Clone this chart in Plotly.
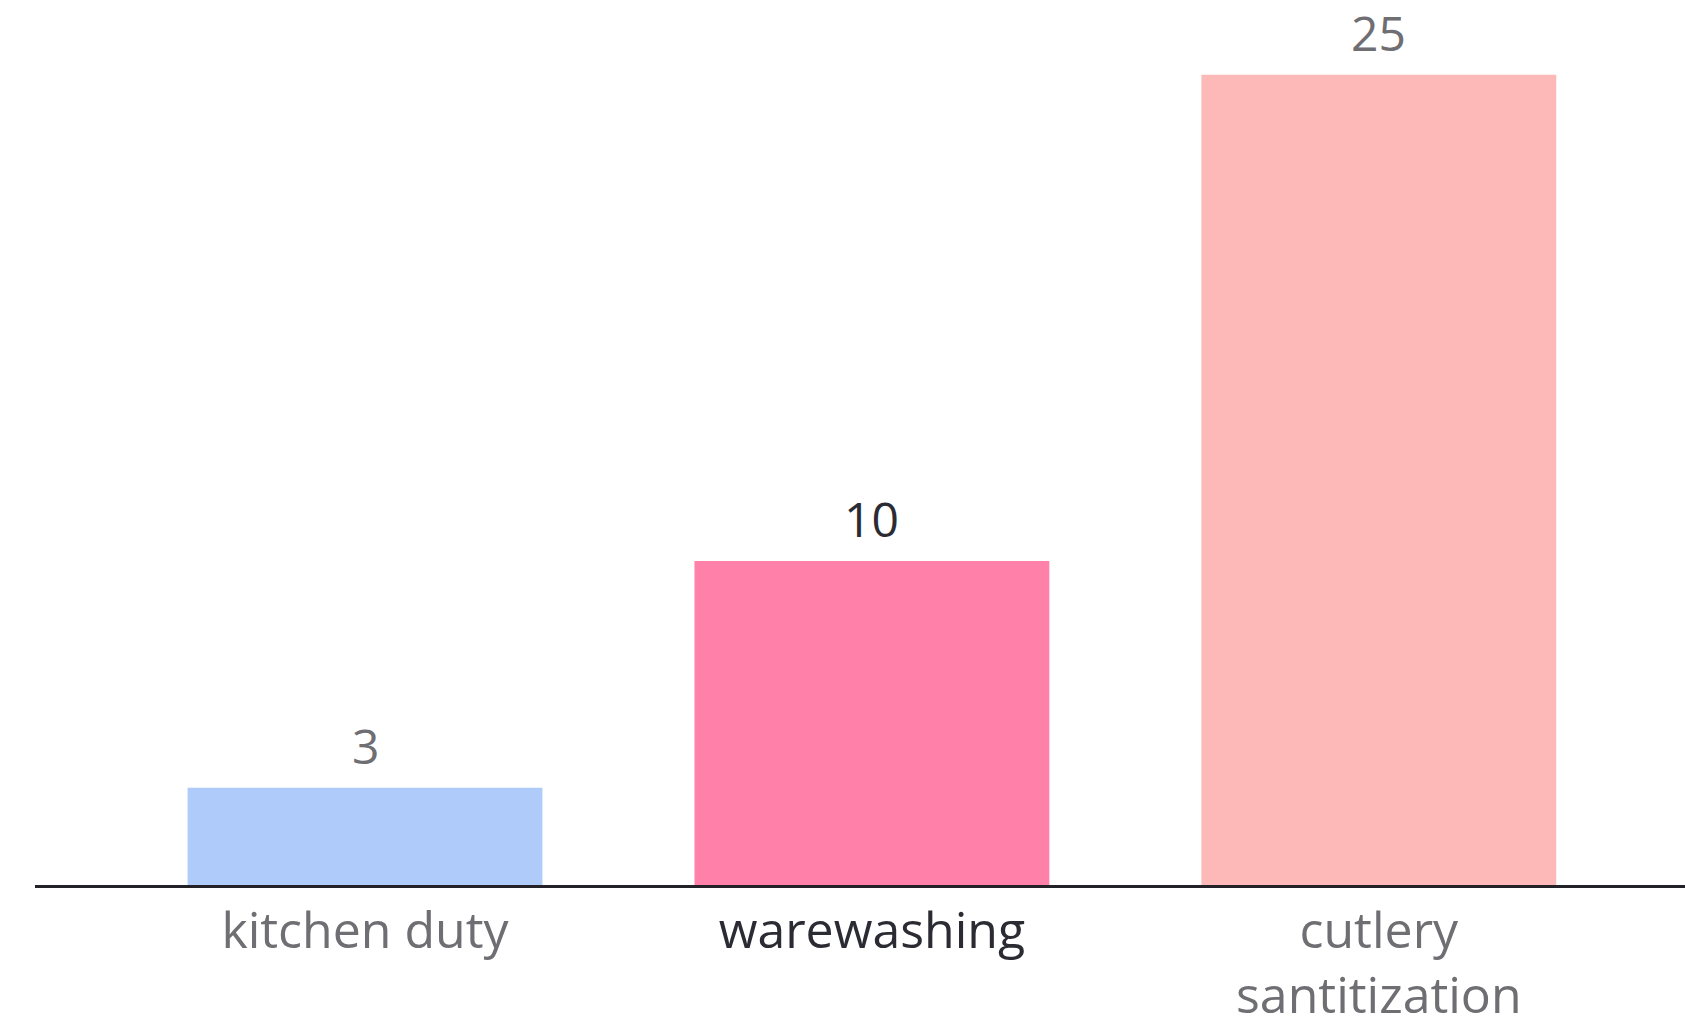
import plotly.graph_objects as go

categories = ["kitchen duty", "warewashing", "cutlery<br>santitization"]
values = [3, 10, 25]
bar_colors = ["#aecbfa", "#ff80a8", "#fcb9b8"]
label_colors = ["#6e6e73", "#2b2b33", "#6e6e73"]

FONT = "Open Sans"

fig = go.Figure()
fig.add_trace(go.Bar(
    x=list(range(len(categories))),
    y=values,
    marker=dict(color=bar_colors, line=dict(width=0)),
    hoverinfo="skip",
))

for i, v in enumerate(values):
    fig.add_annotation(
        x=i, y=v, text=str(v), showarrow=False,
        yanchor="bottom", yshift=8,
        font=dict(family=FONT, size=48, color=label_colors[i]),
    )

ticktext = [f"<span style='color:{c}'>{t}</span>" for t, c in zip(categories, label_colors)]

fig.update_layout(
    width=1685, height=1025,
    margin=dict(l=35, r=0, t=0, b=140),
    paper_bgcolor="white", plot_bgcolor="white",
    bargap=0.3,
    showlegend=False,
    xaxis=dict(
        range=[-0.651, 2.604],
        automargin=False,
        tickmode="array", tickvals=list(range(len(categories))), ticktext=ticktext,
        tickfont=dict(family=FONT, size=50, color="#6e6e73"),
        showline=True, linecolor="#222228", linewidth=3,
        showgrid=False, zeroline=False,
        ticks="",
    ),
    yaxis=dict(
        range=[0, 27.31], visible=False, showgrid=False, zeroline=False,
        automargin=False,
    ),
)

fig.write_html("out.html")
